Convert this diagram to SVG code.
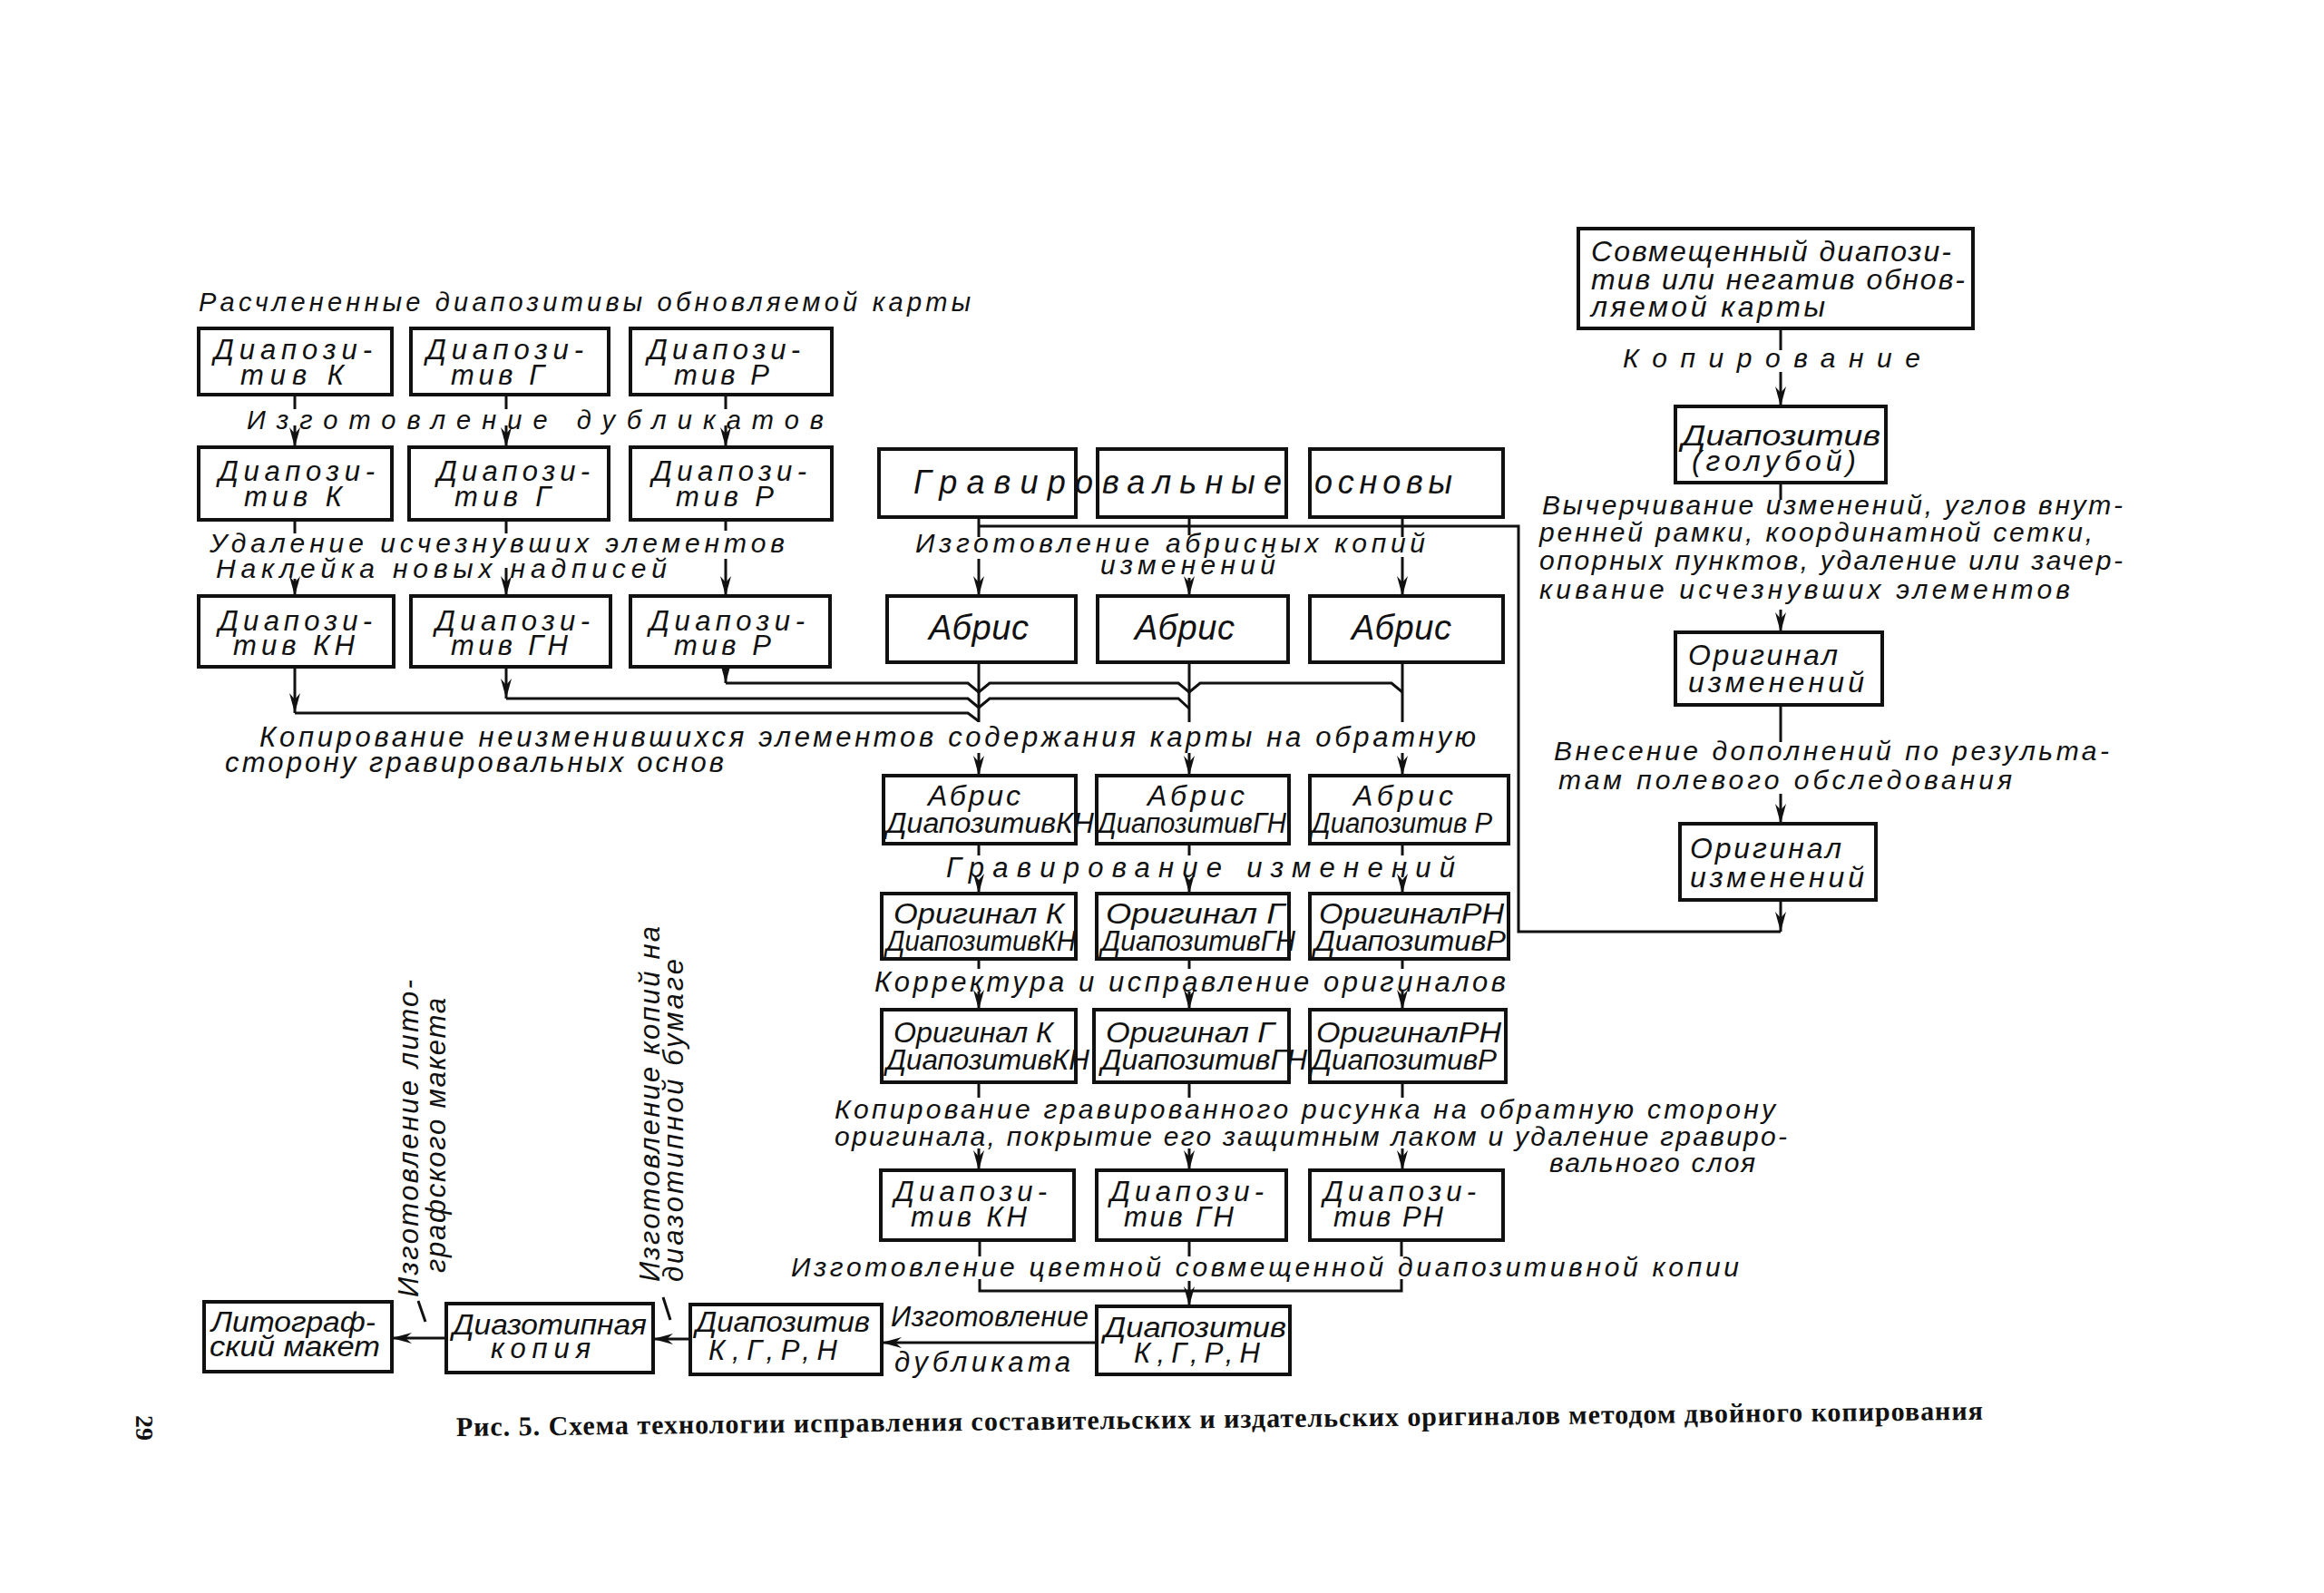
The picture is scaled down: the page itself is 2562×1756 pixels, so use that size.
<svg xmlns="http://www.w3.org/2000/svg" width="2562" height="1756" viewBox="0 0 2562 1756">
<style>
.box{fill:#fff;stroke:#111;stroke-width:4}
.t{font-family:"Liberation Sans","DejaVu Sans",sans-serif;font-style:italic;fill:#111;font-size:31px}
.l{font-size:31px}.s28{font-size:29px}.s30{font-size:30px}.s33{font-size:32px}.s36{font-size:36px}.s38{font-size:38px}
.c{fill:none;stroke:#111;stroke-width:3}
.cap{font-family:"Liberation Serif","DejaVu Serif",serif;font-weight:bold;fill:#111;font-size:30px}
</style>
<defs>
<marker id="ar" markerUnits="userSpaceOnUse" markerWidth="22" markerHeight="12" viewBox="0 0 22 12" refX="22" refY="6" orient="auto"><path d="M0,0 L22,6 L0,12 L7,6 z" fill="#111"/></marker>
</defs>
<rect width="2562" height="1756" fill="#fff"/>

<g id="labels">
<text class="t s28" x="219" y="343" textLength="851" lengthAdjust="spacing">Расчлененные диапозитивы обновляемой карты</text>
<text class="t s28" x="272" y="473" textLength="636" lengthAdjust="spacing">Изготовление дубликатов</text>
<text class="t s30" x="231" y="609" textLength="634" lengthAdjust="spacing">Удаление исчезнувших элементов</text>
<text class="t s30" x="238" y="637" textLength="497" lengthAdjust="spacing">Наклейка новых надписей</text>
<text class="t l" x="286" y="823" textLength="1341" lengthAdjust="spacing">Копирование неизменившихся элементов содержания карты на обратную</text>
<text class="t l" x="248" y="851" textLength="550" lengthAdjust="spacing">сторону гравировальных основ</text>
<text class="t s30" x="1009" y="609" textLength="562" lengthAdjust="spacing">Изготовление абрисных копий</text>
<text class="t s30" x="1213" y="633" textLength="193" lengthAdjust="spacing">изменений</text>
<text class="t l" x="1043" y="967" textLength="561" lengthAdjust="spacing">Гравирование изменений</text>
<text class="t l" x="964" y="1093" textLength="696" lengthAdjust="spacing">Корректура и исправление оригиналов</text>
<text class="t s30" x="920" y="1233" textLength="1037" lengthAdjust="spacing">Копирование гравированного рисунка на обратную сторону</text>
<text class="t s30" x="920" y="1263" textLength="1050" lengthAdjust="spacing">оригинала, покрытие его защитным лаком и удаление гравиро-</text>
<text class="t s30" x="1708" y="1292" textLength="227" lengthAdjust="spacing">вального слоя</text>
<text class="t s30" x="872" y="1407" textLength="1045" lengthAdjust="spacing">Изготовление цветной совмещенной диапозитивной копии</text>
<text class="t l" x="982" y="1462" textLength="218" lengthAdjust="spacing">Изготовление</text>
<text class="t l" x="986" y="1512" textLength="194" lengthAdjust="spacing">дубликата</text>
<text class="t l" transform="translate(461,1430) rotate(-90)" x="0" y="0" textLength="350" lengthAdjust="spacing">Изготовление лито-</text>
<text class="t l" transform="translate(491,1403) rotate(-90)" x="0" y="0" textLength="303" lengthAdjust="spacing">графского макета</text>
<text class="t l" transform="translate(727,1413) rotate(-90)" x="0" y="0" textLength="392" lengthAdjust="spacing">Изготовление копий на</text>
<text class="t l" transform="translate(753,1413) rotate(-90)" x="0" y="0" textLength="356" lengthAdjust="spacing">диазотипной бумаге</text>
<text class="t s30" x="1789" y="405" textLength="328" lengthAdjust="spacing">Копирование</text>
<text class="t s30" x="1700" y="567" textLength="640" lengthAdjust="spacing">Вычерчивание изменений, углов внут-</text>
<text class="t s30" x="1697" y="597" textLength="610" lengthAdjust="spacing">ренней рамки, координатной сетки,</text>
<text class="t s30" x="1697" y="628" textLength="643" lengthAdjust="spacing">опорных пунктов, удаление или зачер-</text>
<text class="t s30" x="1697" y="660" textLength="585" lengthAdjust="spacing">кивание исчезнувших элементов</text>
<text class="t s30" x="1713" y="838" textLength="612" lengthAdjust="spacing">Внесение дополнений по результа-</text>
<text class="t s30" x="1718" y="870" textLength="500" lengthAdjust="spacing">там полевого обследования</text>
<text class="cap" x="503" y="1583" transform="rotate(-0.62 503 1583)" textLength="1683" lengthAdjust="spacing">Рис. 5. Схема технологии исправления составительских и издательских оригиналов методом двойного копирования</text>
<text class="cap" style="font-size:28px" transform="translate(150,1560) rotate(90)" x="0" y="0">29</text>
</g>

<g id="connectors" class="c">
<path d="M325,435V451M558,435V451M800,435V451"/>
<line x1="325" y1="469" x2="325" y2="493" marker-end="url(#ar)"/>
<line x1="558" y1="469" x2="558" y2="493" marker-end="url(#ar)"/>
<line x1="800" y1="469" x2="800" y2="493" marker-end="url(#ar)"/>
<path d="M325,573V588M558,573V588M800,573V585"/>
<line x1="325" y1="638" x2="325" y2="657" marker-end="url(#ar)"/>
<line x1="558" y1="626" x2="558" y2="657" marker-end="url(#ar)"/>
<line x1="800" y1="616" x2="800" y2="657" marker-end="url(#ar)"/>
<line x1="325" y1="735" x2="325" y2="786" marker-end="url(#ar)"/>
<line x1="558" y1="735" x2="558" y2="770" marker-end="url(#ar)"/>
<line x1="800" y1="735" x2="800" y2="753" marker-end="url(#ar)"/>
<path d="M800,753H1067L1079,763M1079,763L1091,753H1299L1311,763M1311,763L1323,753H1534L1546,763"/>
<path d="M558,770H1067L1079,780M1079,780L1091,770H1299L1311,781"/>
<path d="M325,786H1067L1079,795"/>
<path d="M1079,730V796M1311,730V796M1546,730V796"/>
<line x1="1079" y1="830" x2="1079" y2="855" marker-end="url(#ar)"/>
<line x1="1311" y1="830" x2="1311" y2="855" marker-end="url(#ar)"/>
<line x1="1546" y1="830" x2="1546" y2="855" marker-end="url(#ar)"/>
<path d="M1079,570V592M1311,570V590M1546,570V592M1079,580H1674V1027H1963"/>
<line x1="1079" y1="616" x2="1079" y2="657" marker-end="url(#ar)"/>
<line x1="1311" y1="637" x2="1311" y2="657" marker-end="url(#ar)"/>
<line x1="1546" y1="614" x2="1546" y2="657" marker-end="url(#ar)"/>
<line x1="1963" y1="992" x2="1963" y2="1027" marker-end="url(#ar)"/>
<path d="M1079,930V943M1311,930V943M1546,930V943"/>
<line x1="1079" y1="970" x2="1079" y2="985" marker-end="url(#ar)"/>
<line x1="1311" y1="970" x2="1311" y2="985" marker-end="url(#ar)"/>
<line x1="1546" y1="970" x2="1546" y2="985" marker-end="url(#ar)"/>
<path d="M1079,1057V1068M1311,1057V1068M1546,1057V1068"/>
<line x1="1079" y1="1093" x2="1079" y2="1113" marker-end="url(#ar)"/>
<line x1="1311" y1="1093" x2="1311" y2="1113" marker-end="url(#ar)"/>
<line x1="1546" y1="1093" x2="1546" y2="1113" marker-end="url(#ar)"/>
<path d="M1079,1193V1210M1311,1193V1210M1546,1193V1210"/>
<line x1="1079" y1="1266" x2="1079" y2="1290" marker-end="url(#ar)"/>
<line x1="1311" y1="1266" x2="1311" y2="1290" marker-end="url(#ar)"/>
<line x1="1546" y1="1266" x2="1546" y2="1290" marker-end="url(#ar)"/>
<path d="M1080,1367V1385M1311,1367V1385M1545,1367V1385M1080,1410V1423H1545V1410M1311,1412V1423"/>
<line x1="1311" y1="1423" x2="1311" y2="1440" marker-end="url(#ar)"/>
<line x1="1209" y1="1480" x2="972" y2="1480" marker-end="url(#ar)"/>
<line x1="761" y1="1476" x2="720" y2="1476" marker-end="url(#ar)"/>
<line x1="492" y1="1475" x2="432" y2="1475" marker-end="url(#ar)"/>
<path d="M461,1434L469,1457M731,1430L739,1455"/>
<path d="M1963,362V386M1963,532V551M1963,777V818"/>
<line x1="1963" y1="410" x2="1963" y2="448" marker-end="url(#ar)"/>
<line x1="1963" y1="672" x2="1963" y2="697" marker-end="url(#ar)"/>
<line x1="1963" y1="875" x2="1963" y2="908" marker-end="url(#ar)"/>
</g>

<g id="n_k1"><rect class="box" x="219" y="362" width="213" height="73"/><text class="t" x="236" y="396" textLength="174" lengthAdjust="spacing">Диапози-</text><text class="t" x="265" y="424" textLength="114" lengthAdjust="spacing">тив К</text></g>
<g id="n_g1"><rect class="box" x="453" y="362" width="218" height="73"/><text class="t" x="470" y="396" textLength="173" lengthAdjust="spacing">Диапози-</text><text class="t" x="497" y="424" textLength="103" lengthAdjust="spacing">тив Г</text></g>
<g id="n_r1"><rect class="box" x="695" y="362" width="222" height="73"/><text class="t" x="714" y="396" textLength="168" lengthAdjust="spacing">Диапози-</text><text class="t" x="743" y="424" textLength="105" lengthAdjust="spacing">тив Р</text></g>

<g id="n_k2"><rect class="box" x="219" y="493" width="213" height="80"/><text class="t" x="241" y="530" textLength="172" lengthAdjust="spacing">Диапози-</text><text class="t" x="269" y="558" textLength="108" lengthAdjust="spacing">тив К</text></g>
<g id="n_g2"><rect class="box" x="451" y="493" width="220" height="80"/><text class="t" x="482" y="530" textLength="168" lengthAdjust="spacing">Диапози-</text><text class="t" x="501" y="558" textLength="106" lengthAdjust="spacing">тив Г</text></g>
<g id="n_r2"><rect class="box" x="695" y="493" width="222" height="80"/><text class="t" x="719" y="530" textLength="170" lengthAdjust="spacing">Диапози-</text><text class="t" x="745" y="558" textLength="108" lengthAdjust="spacing">тив Р</text></g>

<g id="n_k3"><rect class="box" x="219" y="657" width="215" height="78"/><text class="t" x="241" y="695" textLength="169" lengthAdjust="spacing">Диапози-</text><text class="t" x="257" y="722" textLength="134" lengthAdjust="spacing">тив КН</text></g>
<g id="n_g3"><rect class="box" x="453" y="657" width="220" height="78"/><text class="t" x="480" y="695" textLength="170" lengthAdjust="spacing">Диапози-</text><text class="t" x="497" y="722" textLength="129" lengthAdjust="spacing">тив ГН</text></g>
<g id="n_r3"><rect class="box" x="695" y="657" width="220" height="78"/><text class="t" x="716" y="695" textLength="171" lengthAdjust="spacing">Диапози-</text><text class="t" x="743" y="722" textLength="107" lengthAdjust="spacing">тив Р</text></g>

<g id="n_grav1"><rect class="box" x="969" y="495" width="217" height="75"/><text class="t s36" x="1007" y="544" textLength="198" lengthAdjust="spacing">Гравиро</text></g>
<g id="n_grav2"><rect class="box" x="1210" y="495" width="208" height="75"/><text class="t s36" x="1215" y="544" textLength="198" lengthAdjust="spacing">вальные</text></g>
<g id="n_grav3"><rect class="box" x="1444" y="495" width="213" height="75"/><text class="t s36" x="1449" y="544" textLength="152" lengthAdjust="spacing">основы</text></g>

<g id="n_abr1"><rect class="box" x="978" y="657" width="208" height="73"/><text class="t s38" x="1024" y="705" textLength="110" lengthAdjust="spacing">Абрис</text></g>
<g id="n_abr2"><rect class="box" x="1210" y="657" width="210" height="73"/><text class="t s38" x="1251" y="705" textLength="110" lengthAdjust="spacing">Абрис</text></g>
<g id="n_abr3"><rect class="box" x="1444" y="657" width="213" height="73"/><text class="t s38" x="1490" y="705" textLength="110" lengthAdjust="spacing">Абрис</text></g>

<g id="n_ad1"><rect class="box" x="974" y="855" width="212" height="75"/><text class="t s33" x="1023" y="888" textLength="102" lengthAdjust="spacing">Абрис</text><text class="t" x="977" y="918" textLength="229" lengthAdjust="spacingAndGlyphs">ДиапозитивКН</text></g>
<g id="n_ad2"><rect class="box" x="1209" y="855" width="212" height="75"/><text class="t s33" x="1265" y="888" textLength="107" lengthAdjust="spacing">Абрис</text><text class="t" x="1210" y="918" textLength="208" lengthAdjust="spacingAndGlyphs">ДиапозитивГН</text></g>
<g id="n_ad3"><rect class="box" x="1444" y="855" width="219" height="75"/><text class="t s33" x="1492" y="888" textLength="110" lengthAdjust="spacing">Абрис</text><text class="t" x="1446" y="918" textLength="199" lengthAdjust="spacingAndGlyphs">Диапозитив Р</text></g>

<g id="n_or1"><rect class="box" x="972" y="985" width="214" height="72"/><text class="t" x="985" y="1018" textLength="188" lengthAdjust="spacingAndGlyphs">Оригинал К</text><text class="t" x="977" y="1048" textLength="209" lengthAdjust="spacingAndGlyphs">ДиапозитивКН</text></g>
<g id="n_or2"><rect class="box" x="1209" y="985" width="212" height="72"/><text class="t" x="1219" y="1018" textLength="197" lengthAdjust="spacingAndGlyphs">Оригинал Г</text><text class="t" x="1214" y="1048" textLength="214" lengthAdjust="spacingAndGlyphs">ДиапозитивГН</text></g>
<g id="n_or3"><rect class="box" x="1444" y="985" width="219" height="72"/><text class="t" x="1454" y="1018" textLength="204" lengthAdjust="spacingAndGlyphs">ОригиналРН</text><text class="t" x="1449" y="1048" textLength="211" lengthAdjust="spacingAndGlyphs">ДиапозитивР</text></g>

<g id="n_oc1"><rect class="box" x="972" y="1113" width="214" height="80"/><text class="t" x="985" y="1149" textLength="176" lengthAdjust="spacingAndGlyphs">Оригинал К</text><text class="t" x="977" y="1179" textLength="224" lengthAdjust="spacingAndGlyphs">ДиапозитивКН</text></g>
<g id="n_oc2"><rect class="box" x="1206" y="1113" width="215" height="80"/><text class="t" x="1219" y="1149" textLength="186" lengthAdjust="spacingAndGlyphs">Оригинал Г</text><text class="t" x="1214" y="1179" textLength="227" lengthAdjust="spacingAndGlyphs">ДиапозитивГН</text></g>
<g id="n_oc3"><rect class="box" x="1444" y="1113" width="216" height="80"/><text class="t" x="1451" y="1149" textLength="204" lengthAdjust="spacingAndGlyphs">ОригиналРН</text><text class="t" x="1446" y="1179" textLength="204" lengthAdjust="spacingAndGlyphs">ДиапозитивР</text></g>

<g id="n_dkn"><rect class="box" x="971" y="1290" width="213" height="77"/><text class="t" x="986" y="1324" textLength="168" lengthAdjust="spacing">Диапози-</text><text class="t" x="1004" y="1352" textLength="128" lengthAdjust="spacing">тив КН</text></g>
<g id="n_dgn"><rect class="box" x="1209" y="1290" width="209" height="77"/><text class="t" x="1224" y="1324" textLength="169" lengthAdjust="spacing">Диапози-</text><text class="t" x="1239" y="1352" textLength="121" lengthAdjust="spacing">тив ГН</text></g>
<g id="n_drn"><rect class="box" x="1444" y="1290" width="213" height="77"/><text class="t" x="1459" y="1324" textLength="168" lengthAdjust="spacing">Диапози-</text><text class="t" x="1470" y="1352" textLength="121" lengthAdjust="spacing">тив РН</text></g>

<g id="n_dall1"><rect class="box" x="1209" y="1440" width="213" height="75"/><text class="t" x="1217" y="1474" textLength="201" lengthAdjust="spacingAndGlyphs">Диапозитив</text><text class="t" x="1250" y="1502" textLength="139" lengthAdjust="spacing">К,Г,Р,Н</text></g>
<g id="n_dall2"><rect class="box" x="761" y="1438" width="211" height="77"/><text class="t" x="767" y="1468" textLength="192" lengthAdjust="spacingAndGlyphs">Диапозитив</text><text class="t" x="781" y="1499" textLength="142" lengthAdjust="spacing">К,Г,Р,Н</text></g>
<g id="n_diazo"><rect class="box" x="492" y="1437" width="228" height="76"/><text class="t" x="499" y="1471" textLength="214" lengthAdjust="spacingAndGlyphs">Диазотипная</text><text class="t" x="541" y="1497" textLength="110" lengthAdjust="spacing">копия</text></g>
<g id="n_lito"><rect class="box" x="225" y="1435" width="207" height="77"/><text class="t" x="233" y="1468" textLength="181" lengthAdjust="spacingAndGlyphs">Литограф-</text><text class="t" x="231" y="1495" textLength="188" lengthAdjust="spacingAndGlyphs">ский макет</text></g>

<g id="n_sovm"><rect class="box" x="1740" y="252" width="435" height="110"/><text class="t s33" x="1754" y="288" textLength="397" lengthAdjust="spacing">Совмещенный диапози-</text><text class="t s33" x="1754" y="319" textLength="412" lengthAdjust="spacing">тив или негатив обнов-</text><text class="t s33" x="1754" y="349" textLength="258" lengthAdjust="spacing">ляемой карты</text></g>
<g id="n_golub"><rect class="box" x="1847" y="448" width="232" height="84"/><text class="t s33" x="1854" y="491" textLength="219" lengthAdjust="spacingAndGlyphs">Диапозитив</text><text class="t s33" x="1865" y="519" textLength="181" lengthAdjust="spacing">(голубой)</text></g>
<g id="n_origizm1"><rect class="box" x="1847" y="697" width="228" height="80"/><text class="t s33" x="1861" y="733" textLength="165" lengthAdjust="spacing">Оригинал</text><text class="t s33" x="1861" y="763" textLength="194" lengthAdjust="spacing">изменений</text></g>
<g id="n_origizm2"><rect class="box" x="1852" y="908" width="216" height="84"/><text class="t s33" x="1863" y="946" textLength="167" lengthAdjust="spacing">Оригинал</text><text class="t s33" x="1863" y="978" textLength="192" lengthAdjust="spacing">изменений</text></g>
</svg>
